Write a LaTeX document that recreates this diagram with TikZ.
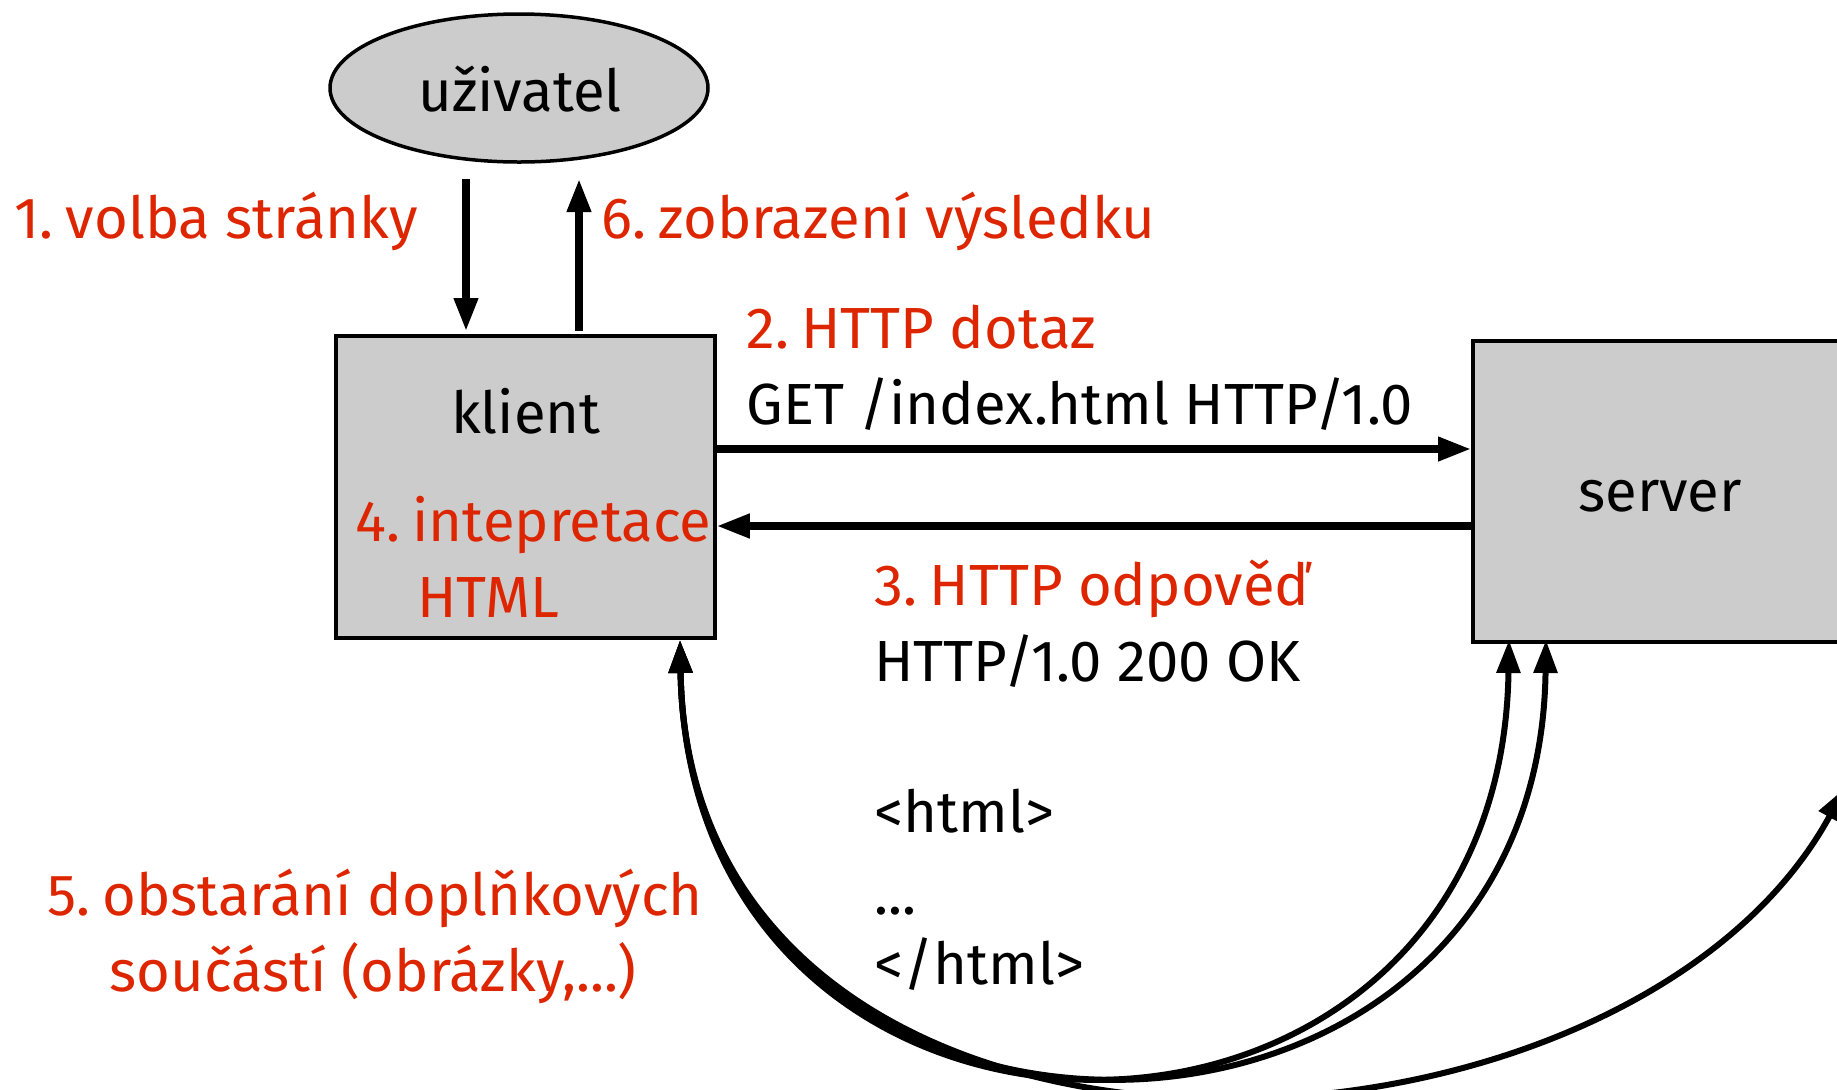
\documentclass[tikz,border=0pt]{standalone}
\usepackage{fontspec}
\setmainfont{Fira Sans}
\usetikzlibrary{arrows.meta,shapes.geometric}
\definecolor{labelred}{RGB}{221,38,0}
\definecolor{boxgray}{RGB}{204,204,204}
\newcommand\numsp{\hspace{6.2pt}}
\tikzset{
  box/.style={draw=black, line width=1.75pt, fill=boxgray, inner sep=0pt},
  txt/.style={anchor=base west, inner sep=0pt, font=\fontsize{29}{34}\selectfont},
  ctxt/.style={anchor=base, inner sep=0pt, font=\fontsize{29}{34}\selectfont},
  redtxt/.style={txt, text=labelred},
  flow/.style={line width=3.6pt, -{Triangle[length=16.5pt,width=11.5pt]}},
  curvy/.style={line width=3pt, {Triangle[length=16.5pt,width=11.5pt]}-{Triangle[length=16.5pt,width=11.5pt]}},
}
\begin{document}
\begin{tikzpicture}[x=0.5pt,y=-0.5pt]
\useasboundingbox (0,0) rectangle (1837,1089);
\clip (0,0) rectangle (1837,1089);

% boxes
\node[box, ellipse, minimum width=189pt, minimum height=74pt] (user) at (519,88) {};
\node[box, rectangle, minimum width=189.5pt, minimum height=151pt] (client) at (525.5,487) {};
\node[box, rectangle, minimum width=250pt, minimum height=150.5pt, anchor=north west] (server) at (1471,339) {};

% box titles
\node[ctxt] (userlbl) at (520,111) {uživatel};
\node[ctxt] (clientlbl) at (526,433) {klient};
\node[ctxt] (serverlbl) at (1660,511) {server};

% user <-> client
\coordinate (dtop) at (466,179);
\coordinate (dbot) at (466,331);
\coordinate (utop) at (579,179);
\coordinate (ubot) at (579,331);
\draw[flow] (dtop) -- (dbot);
\draw[flow] (ubot) -- (utop);
\node[redtxt] (step1) at (14,238) {1.\numsp volba stránky};
\node[redtxt] (step6) at (601,238) {6.\numsp zobrazení výsledku};

% request / response
\draw[flow] (client.east |- 0,449) -- (server.west |- 0,449);
\draw[flow] (server.west |- 0,526) -- (client.east |- 0,526);
\node[redtxt] (step2) at (746,348) {2.\numsp HTTP dotaz};
\node[txt] (req) at (746,424) {GET /index.html HTTP/1.0};
\node[redtxt] (step4a) at (355,541) {4.\numsp intepretace};
\node[redtxt] (step4b) at (417,617) {HTML};
\node[redtxt] (step3) at (874,605) {3.\numsp HTTP odpověď};
\node[txt] (resp1) at (874,681) {HTTP/1.0 200 OK};
\node[txt] (resp2) at (874,832) {<html>};
\node[txt] (resp3) at (874,914) {...};
\node[txt] (resp4) at (874,984) {</html>};

% additional resources
\coordinate (cb) at (680,640);
\coordinate (sb1) at (1509,640);
\coordinate (sb2) at (1546,640);
\coordinate (far) at (1845,788);
\draw[curvy] (cb) .. controls (690,1216) and (1500,1216) .. (sb1);
\draw[curvy] (cb) .. controls (690,1216) and (1538,1216) .. (sb2);
\draw[curvy] (cb) .. controls (690,1232) and (1620,1200) .. (far);
\node[ctxt, text=labelred] (step5a) at (375,915) {5.\numsp obstarání doplňkových};
\node[ctxt, text=labelred] (step5b) at (373,991) {součástí (obrázky,...)};
\end{tikzpicture}
\end{document}
